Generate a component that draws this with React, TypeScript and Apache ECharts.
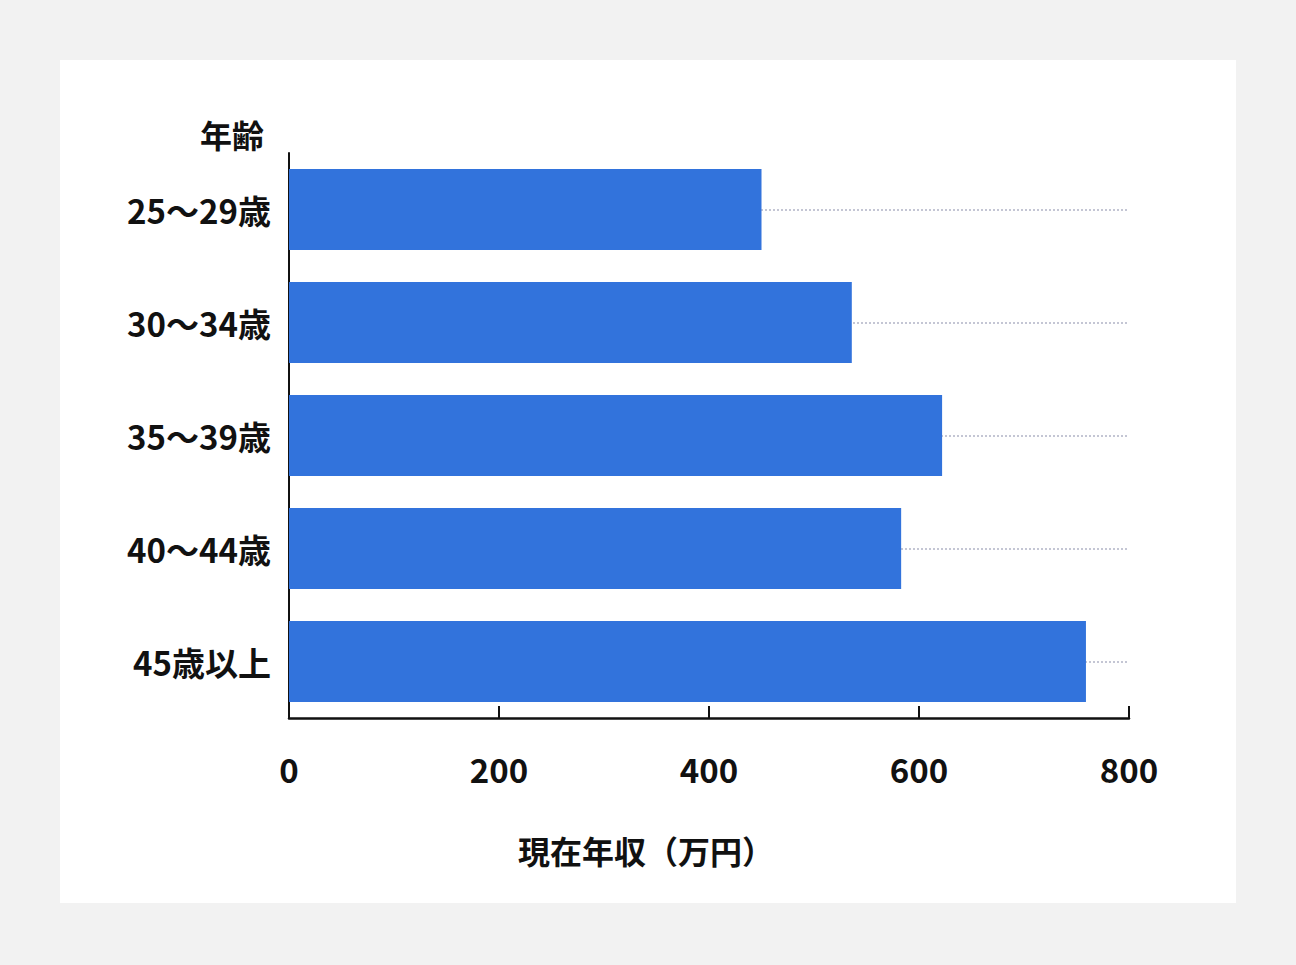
import { useEffect, useRef } from 'react'
import * as echarts from 'echarts'

// 年齢別の現在年収（万円）
const categorias = ['25〜29歳', '30〜34歳', '35〜39歳', '40〜44歳', '45歳以上']
const valores = [450, 536, 622, 583, 759]
const tituloEixoY = '年齢'
const tituloEixoX = '現在年収（万円）'

const fonte = '"Noto Sans CJK JP", "Noto Sans", sans-serif'

export default function App() {
  const containerRef = useRef<HTMLDivElement>(null)

  useEffect(() => {
    if (!containerRef.current) return
    const instancia = echarts.init(containerRef.current, null, { renderer: 'svg' })

    instancia.setOption({
      animation: false,
      backgroundColor: '#ffffff',
      textStyle: { fontFamily: fonte },
      grid: { left: 229, top: 93, width: 840, height: 565 },
      xAxis: {
        type: 'value',
        min: 0,
        max: 800,
        interval: 200,
        axisLine: { show: true, lineStyle: { color: '#111', width: 2.5 } },
        axisTick: { show: true, inside: true, length: 12, lineStyle: { color: '#111', width: 2 } },
        splitLine: { show: false },
        axisLabel: { fontSize: 33, fontWeight: 'bold', color: '#111', margin: 34, fontFamily: fonte },
      },
      yAxis: {
        type: 'category',
        inverse: true,
        data: categorias,
        axisLine: { show: true, lineStyle: { color: '#111', width: 2 } },
        axisTick: { show: false },
        splitLine: { show: false },
        axisLabel: { fontSize: 33, fontWeight: 'bold', color: '#111', margin: 18, fontFamily: fonte },
      },
      // textos soltos: titulo do eixo Y acima das categorias e nome do eixo X embaixo
      graphic: [
        {
          type: 'text',
          x: 204,
          y: 74,
          style: {
            text: tituloEixoY,
            fill: '#111',
            font: `bold 32px ${fonte}`,
            textAlign: 'right',
            textVerticalAlign: 'middle',
          },
        },
        {
          type: 'text',
          x: 458,
          y: 790,
          style: {
            text: tituloEixoX,
            fill: '#111',
            font: `bold 32px ${fonte}`,
            textAlign: 'left',
            textVerticalAlign: 'middle',
          },
        },
      ],
      series: [
        {
          type: 'bar',
          data: valores,
          barWidth: 81,
          z: 2,
          itemStyle: { color: '#3273dc' },
          // linhas-guia pontilhadas no centro de cada categoria
          markLine: {
            silent: true,
            z: 1,
            symbol: ['none', 'none'],
            label: { show: false },
            lineStyle: { color: '#c4c6d4', type: 'dotted', width: 2 },
            data: categorias.map((c) => ({ yAxis: c })),
          },
        },
      ],
    })

    return () => instancia.dispose()
  }, [])

  return (
    <div style={{ position: 'fixed', inset: 0, background: '#f2f2f2' }}>
      <div
        ref={containerRef}
        style={{ position: 'absolute', left: 60, top: 60, width: 1176, height: 843 }}
      />
    </div>
  )
}
